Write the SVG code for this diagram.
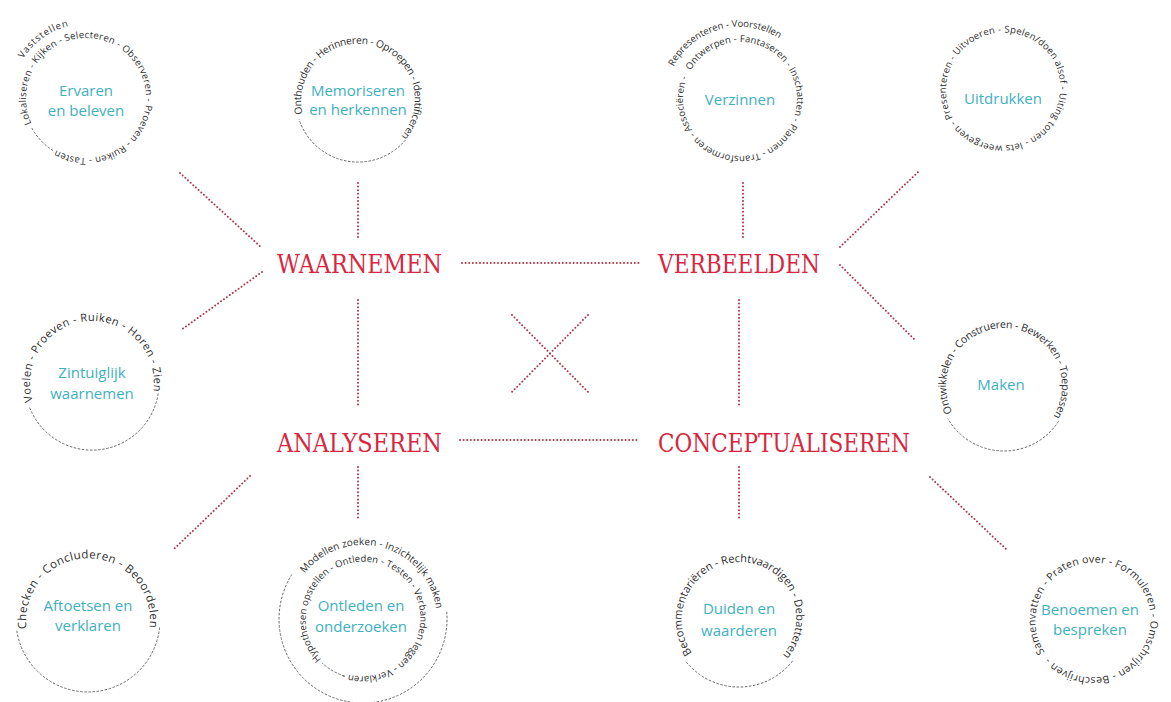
<svg xmlns="http://www.w3.org/2000/svg" width="1171" height="702" viewBox="0 0 1171 702">
<style>
.ring{font-family:"Open Sans","Noto Sans","DejaVu Sans",sans-serif;fill:#2e2e2e}
.title{font-family:"Open Sans","Noto Sans",sans-serif;fill:#3fb0c0;font-size:15px;text-anchor:middle}
.main{font-family:"DejaVu Serif","Liberation Serif",serif;fill:#d8263f;font-size:26px}
.dot{fill:none;stroke:#ad3249;stroke-width:2;stroke-dasharray:0 3.6;stroke-linecap:round}
.dash{fill:none;stroke:#555;stroke-width:0.9;stroke-dasharray:2.5 1.6}
</style>
<defs>
<path id="p1" d="M31.6,123.4 A60,60 0 0 1 140.4,72.6 A60,60 0 0 1 31.6,123.4"/>
<path id="p1b" d="M23.2,58.8 A74,74 0 0 1 148.8,137.2 A74,74 0 0 1 23.2,58.8"/>
<path id="p2" d="M302.7,113.8 A57,57 0 0 1 413.3,86.2 A57,57 0 0 1 302.7,113.8"/>
<path id="p3" d="M690.6,70.5 A57,57 0 0 1 789.4,127.5 A57,57 0 0 1 690.6,70.5"/>
<path id="p3b" d="M673.5,66.6 A74,74 0 0 1 806.5,131.4 A74,74 0 0 1 673.5,66.6"/>
<path id="p4" d="M952.8,118 A58,58 0 0 1 1053.2,60 A58,58 0 0 1 952.8,118"/>
<path id="p5" d="M32.7,401.1 A62,62 0 0 1 151.3,364.9 A62,62 0 0 1 32.7,401.1"/>
<path id="p6" d="M952.3,412.3 A58,58 0 0 1 1055.7,359.7 A58,58 0 0 1 952.3,412.3"/>
<path id="p7" d="M26.6,628.6 A62,62 0 0 1 149.4,611.4 A62,62 0 0 1 26.6,628.6"/>
<path id="p8" d="M321.3,659.3 A58,58 0 0 1 404.7,578.7 A58,58 0 0 1 321.3,659.3"/>
<path id="p8b" d="M304.7,573.4 A74,74 0 0 1 421.3,664.6 A74,74 0 0 1 304.7,573.4"/>
<path id="p9" d="M692.1,653.1 A58,58 0 0 1 785.9,584.9 A58,58 0 0 1 692.1,653.1"/>
<path id="p10" d="M1044.9,652.4 A58,58 0 0 1 1141.1,587.6 A58,58 0 0 1 1044.9,652.4"/>
</defs>
<rect width="1171" height="702" fill="#ffffff"/>

<g id="connectors">
<line class="dot" x1="462" y1="263" x2="640" y2="263"/>
<line class="dot" x1="460" y1="440" x2="640" y2="440"/>
<line class="dot" x1="358" y1="183" x2="358" y2="238"/>
<line class="dot" x1="358" y1="300" x2="358" y2="407"/>
<line class="dot" x1="358" y1="467" x2="358" y2="520"/>
<line class="dot" x1="743" y1="183" x2="743" y2="240"/>
<line class="dot" x1="739" y1="300" x2="739" y2="407"/>
<line class="dot" x1="739" y1="467" x2="739" y2="518"/>
<line class="dot" x1="840" y1="247" x2="918" y2="172"/>
<line class="dot" x1="840" y1="265" x2="915" y2="340"/>
<line class="dot" x1="930" y1="477" x2="1007" y2="550"/>
<line class="dot" x1="180" y1="173" x2="262" y2="248"/>
<line class="dot" x1="262" y1="272" x2="181" y2="330"/>
<line class="dot" x1="250" y1="476" x2="173" y2="550"/>
<line class="dot" x1="512" y1="315" x2="588" y2="392"/>
<line class="dot" x1="588" y1="315" x2="512" y2="392"/>
</g>

<g id="waarnemen"><text class="main" x="277" y="273" textLength="165" lengthAdjust="spacingAndGlyphs">WAARNEMEN</text></g>
<g id="verbeelden"><text class="main" x="658" y="273" textLength="162" lengthAdjust="spacingAndGlyphs">VERBEELDEN</text></g>
<g id="analyseren"><text class="main" x="277" y="452" textLength="165" lengthAdjust="spacingAndGlyphs">ANALYSEREN</text></g>
<g id="conceptualiseren"><text class="main" x="658" y="452" textLength="252" lengthAdjust="spacingAndGlyphs">CONCEPTUALISEREN</text></g>

<g id="ervaren">
<text class="ring" font-size="9.5"><textPath href="#p1" textLength="340" lengthAdjust="spacing">Lokaliseren - Kijken - Selecteren - Observeren - Proeven - Ruiken - Tasten</textPath></text>
<text class="ring" font-size="9.5"><textPath href="#p1b" textLength="57" lengthAdjust="spacing">Vaststellen</textPath></text>
<path class="dash" d="M53.1,150.6 A62,62 0 0 1 31.3,127.1"/>
<text class="title" x="86" y="96">Ervaren</text>
<text class="title" x="86" y="116">en beleven</text>
</g>

<g id="memoriseren">
<text class="ring" font-size="10.2"><textPath href="#p2" textLength="231" lengthAdjust="spacing">Onthouden - Herinneren - Oproepen - Identificeren</textPath></text>
<path class="dash" d="M405.5,139.9 A62,62 0 0 1 299,119.2"/>
<text class="title" x="358" y="96">Memoriseren</text>
<text class="title" x="358" y="115">en herkennen</text>
</g>

<g id="verzinnen">
<text class="ring" font-size="9.5"><textPath href="#p3" textLength="350" lengthAdjust="spacing">Ontwerpen - Fantaseren - Inschatten - Plannen - Transformeren - Associëren -</textPath></text>
<text class="ring" font-size="9.5"><textPath href="#p3b" textLength="123" lengthAdjust="spacing">Representeren - Voorstellen</textPath></text>
<text class="title" x="740" y="105">Verzinnen</text>
</g>

<g id="uitdrukken">
<text class="ring" font-size="9.5"><textPath href="#p4" textLength="354" lengthAdjust="spacing">Presenteren - Uitvoeren - Spelen/doen alsof - Uiting tonen - Iets weergeven -</textPath></text>
<text class="title" x="1003" y="104">Uitdrukken</text>
</g>

<g id="zintuiglijk">
<text class="ring" font-size="11"><textPath href="#p5" textLength="221" lengthAdjust="spacing">Voelen - Proeven - Ruiken - Horen - Zien</textPath></text>
<path class="dash" d="M158.2,393.5 A67,67 0 0 1 29,405.9"/>
<text class="title" x="92" y="378">Zintuiglijk</text>
<text class="title" x="92" y="399">waarnemen</text>
</g>

<g id="maken">
<text class="ring" font-size="10.5"><textPath href="#p6" textLength="241" lengthAdjust="spacing">Ontwikkelen - Construeren - Bewerken - Toepassen</textPath></text>
<path class="dash" d="M1058.5,421.4 A65,65 0 0 1 947.7,418.5"/>
<text class="title" x="1001" y="390">Maken</text>
</g>

<g id="aftoetsen">
<text class="ring" font-size="11.5"><textPath href="#p7" textLength="210" lengthAdjust="spacing">Checken - Concluderen - Beoordelen</textPath></text>
<path class="dash" d="M159.6,627.5 A72,72 0 0 1 16.7,630"/>
<text class="title" x="88" y="611">Aftoetsen en</text>
<text class="title" x="88" y="631">verklaren</text>
</g>

<g id="ontleden">
<text class="ring" font-size="9.5"><textPath href="#p8" textLength="334" lengthAdjust="spacing">Hypothesen opstellen - Ontleden - Testen - Verbanden leggen - Verklaren -</textPath></text>
<text class="ring" font-size="10"><textPath href="#p8b" textLength="173" lengthAdjust="spacing">Modellen zoeken - Inzichtelijk maken</textPath></text>
<path class="dash" d="M344.5,676.1 A60,60 0 0 1 322.1,662.9"/>
<path class="dash" d="M446.7,611.7 A84,84 0 1 1 291.8,574.5"/>
<text class="title" x="361" y="611">Ontleden en</text>
<text class="title" x="361" y="632">onderzoeken</text>
</g>

<g id="duiden">
<text class="ring" font-size="11"><textPath href="#p9" textLength="255" lengthAdjust="spacing">Becommentariëren - Rechtvaardigen - Debatteren</textPath></text>
<path class="dash" d="M792.6,660.9 A68,68 0 0 1 685.4,660.9"/>
<text class="title" x="739" y="614">Duiden en</text>
<text class="title" x="739" y="636">waarderen</text>
</g>

<g id="benoemen">
<text class="ring" font-size="10.5"><textPath href="#p10" textLength="354" lengthAdjust="spacing">Samenvatten - Praten over - Formuleren - Omschrijven - Beschrijven -</textPath></text>
<text class="title" x="1090" y="615">Benoemen en</text>
<text class="title" x="1090" y="635">bespreken</text>
</g>
</svg>
